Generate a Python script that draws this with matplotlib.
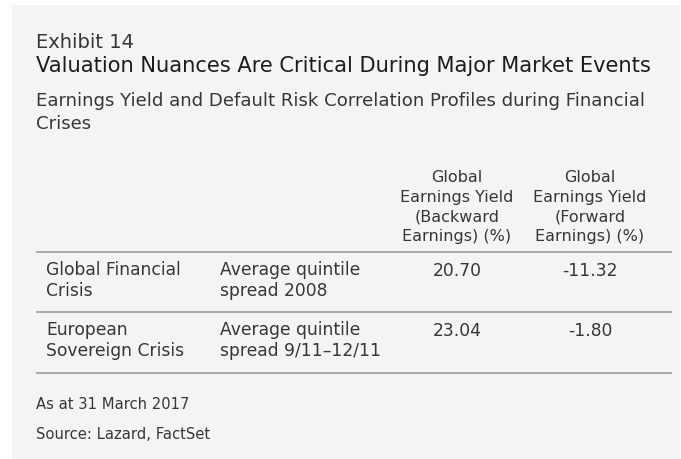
import matplotlib
matplotlib.use("Agg")
import matplotlib.pyplot as plt
from matplotlib.patches import Rectangle

plt.rcParams['font.family'] = ['DejaVu Sans']

exhibit = "Exhibit 14"
title = "Valuation Nuances Are Critical During Major Market Events"
subtitle = "Earnings Yield and Default Risk Correlation Profiles during Financial\nCrises"
col_headers = ["Global\nEarnings Yield\n(Backward\nEarnings) (%)",
               "Global\nEarnings Yield\n(Forward\nEarnings) (%)"]
crises = ["Global Financial\nCrisis", "European\nSovereign Crisis"]
periods = ["Average quintile\nspread 2008", "Average quintile\nspread 9/11\u201312/11"]
backward = [20.70, 23.04]
forward = [-11.32, -1.80]
notes = ["As at 31 March 2017", "Source: Lazard, FactSet"]

W, H = 681, 459
fig = plt.figure(figsize=(W / 100, H / 100), dpi=100)
fig.patch.set_facecolor("white")
ax = fig.add_axes([0, 0, 1, 1])
ax.set_xlim(0, W)
ax.set_ylim(H, 0)
ax.axis("off")

ax.add_patch(Rectangle((12, 5), W - 13, H - 5, facecolor="#f3f4f4", edgecolor="none"))

TC = "#363636"


def lines(x, y0, pitch, s, **kw):
    for k, ln in enumerate(s.split("\n")):
        ax.text(x, y0 + k * pitch, ln, va="baseline", **kw)


lines(36, 48, 0, exhibit, fontsize=14, color=TC, ha="left")
lines(36, 72, 0, title, fontsize=15.1, color="#1c1c1c", ha="left")
lines(36, 106, 23, subtitle, fontsize=13.1, color=TC, ha="left")

colx = [457, 590]
for x, h in zip(colx, col_headers):
    lines(x, 182, 19.7, h, fontsize=11.5, color=TC, ha="center")

line_y = [252, 312, 373]
for y in line_y:
    ax.plot([36, 672], [y, y], color="#a3a3a3", lw=1.3, solid_capstyle="butt")

row_base = [275, 335]
for i in range(len(crises)):
    y = row_base[i]
    lines(46, y, 21.5, crises[i], fontsize=12.3, color=TC, ha="left")
    lines(220, y, 21.5, periods[i], fontsize=12.3, color=TC, ha="left")
    lines(colx[0], y + 1, 0, f"{backward[i]:.2f}", fontsize=12.3, color=TC, ha="center")
    lines(colx[1], y + 1, 0, f"{forward[i]:.2f}", fontsize=12.3, color=TC, ha="center")

lines(36, 409, 0, notes[0], fontsize=10.6, color=TC, ha="left")
lines(36, 439, 0, notes[1], fontsize=10.6, color=TC, ha="left")

fig.savefig("out.png", dpi=100, facecolor=fig.get_facecolor())
